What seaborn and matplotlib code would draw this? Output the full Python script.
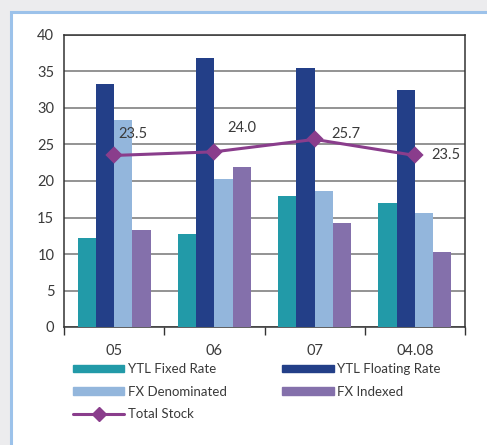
import matplotlib
matplotlib.use("Agg")
import matplotlib.pyplot as plt
import matplotlib.patches as mpatches
import matplotlib.lines as mlines
import seaborn as sns
import pandas as pd

# Data
periods = ["05", "06", "07", "04.08"]
ytl_fixed = [12.2, 12.7, 17.9, 17.0]
ytl_floating = [33.3, 36.8, 35.5, 32.5]
fx_denominated = [28.4, 20.3, 18.6, 15.6]
fx_indexed = [13.3, 21.9, 14.2, 10.3]
total_stock = [23.5, 24.0, 25.7, 23.5]
series_names = ["YTL Fixed Rate", "YTL Floating Rate", "FX Denominated", "FX Indexed"]
line_name = "Total Stock"
y_ticks = [0, 5, 10, 15, 20, 25, 30, 35, 40]

colors = ["#229aa8", "#233f88", "#93b6dc", "#8470ab"]
line_color = "#8a3d8c"
text_color = "#3a3a3a"

sns.set_theme(style="white")
plt.rcParams["font.family"] = ["Lato", "DejaVu Sans"]

rows = []
for name, vals in zip(series_names, [ytl_fixed, ytl_floating, fx_denominated, fx_indexed]):
    for p, v in zip(periods, vals):
        rows.append({"period": p, "series": name, "value": v})
df = pd.DataFrame(rows)

W, H = 487, 445
fig = plt.figure(figsize=(W / 100, H / 100), dpi=100)
fig.patch.set_facecolor("#ececee")

# white panel with light blue border
panel = mpatches.Rectangle((10.5 / W, -0.2), 1.2, 1 - 11.5 / H + 0.2,
                           transform=fig.transFigure, facecolor="white",
                           edgecolor="#9cc2ea", linewidth=2.2, zorder=-1)
fig.patches.append(panel)

ax = fig.add_axes([64 / W, 1 - 327 / H, (465 - 64) / W, (327 - 35) / H])
ax.set_zorder(2)
ax.set_facecolor("white")

sns.barplot(data=df, x="period", y="value", hue="series", order=periods,
            hue_order=series_names, palette=colors, width=0.73, saturation=1,
            linewidth=0, ax=ax, legend=False, zorder=3)

sns.pointplot(x=periods, y=total_stock, order=periods, color=line_color,
              markers="D", linestyles="-", markersize=7, linewidth=2.2, ax=ax,
              zorder=5)

# value labels on the total line
offsets = [(3, 15.5), (9.5, 17), (12, 4), (12, 0)]
for i, (v, off) in enumerate(zip(total_stock, offsets)):
    ax.annotate(f"{v:.1f}", xy=(i, v), xytext=off, textcoords="offset points",
                ha="left", va="center", fontsize=10.5, color=text_color, zorder=6)

ax.set_ylim(0, 40)
ax.set_xlim(-0.5, 3.5)
ax.set_yticks(y_ticks)
ax.set_yticklabels([str(t) for t in y_ticks])
ax.yaxis.grid(True, color="#8a8a8a", linewidth=1.3)
ax.set_axisbelow(True)
ax.set_xlabel("")
ax.set_ylabel("")

# category labels centred, tick marks at category boundaries
ax.set_xticks([-0.5, 0.5, 1.5, 2.5, 3.5])
ax.set_xticklabels([])
ax.set_xticks(range(len(periods)), minor=True)
ax.set_xticklabels(periods, minor=True)
ax.tick_params(axis="x", which="major", length=6, width=1, color="#333333",
               direction="out", bottom=True)
ax.tick_params(axis="x", which="minor", length=0, pad=12, labelsize=10.5,
               labelcolor=text_color)
ax.tick_params(axis="y", length=0, pad=7, labelsize=10.5, labelcolor=text_color)

for s in ax.spines.values():
    s.set_visible(True)
    s.set_color("#333333")
    s.set_linewidth(1.1)

handles = [
    mpatches.Patch(color=colors[0], label=series_names[0]),
    mpatches.Patch(color=colors[2], label=series_names[2]),
    mlines.Line2D([], [], color=line_color, marker="D", markersize=7,
                  linewidth=2.2, label=line_name),
    mpatches.Patch(color=colors[1], label=series_names[1]),
    mpatches.Patch(color=colors[3], label=series_names[3]),
]
fig.legend(handles=handles, loc="upper left", bbox_to_anchor=(73 / W, 1 - 363 / H),
           ncol=2, frameon=False, fontsize=9.5, handlelength=3.9,
           handleheight=0.5, handletextpad=0.3, columnspacing=4.15,
           labelspacing=0.8, borderpad=0, borderaxespad=0,
           labelcolor=text_color)

fig.savefig("out.png", dpi=100, facecolor=fig.get_facecolor())
